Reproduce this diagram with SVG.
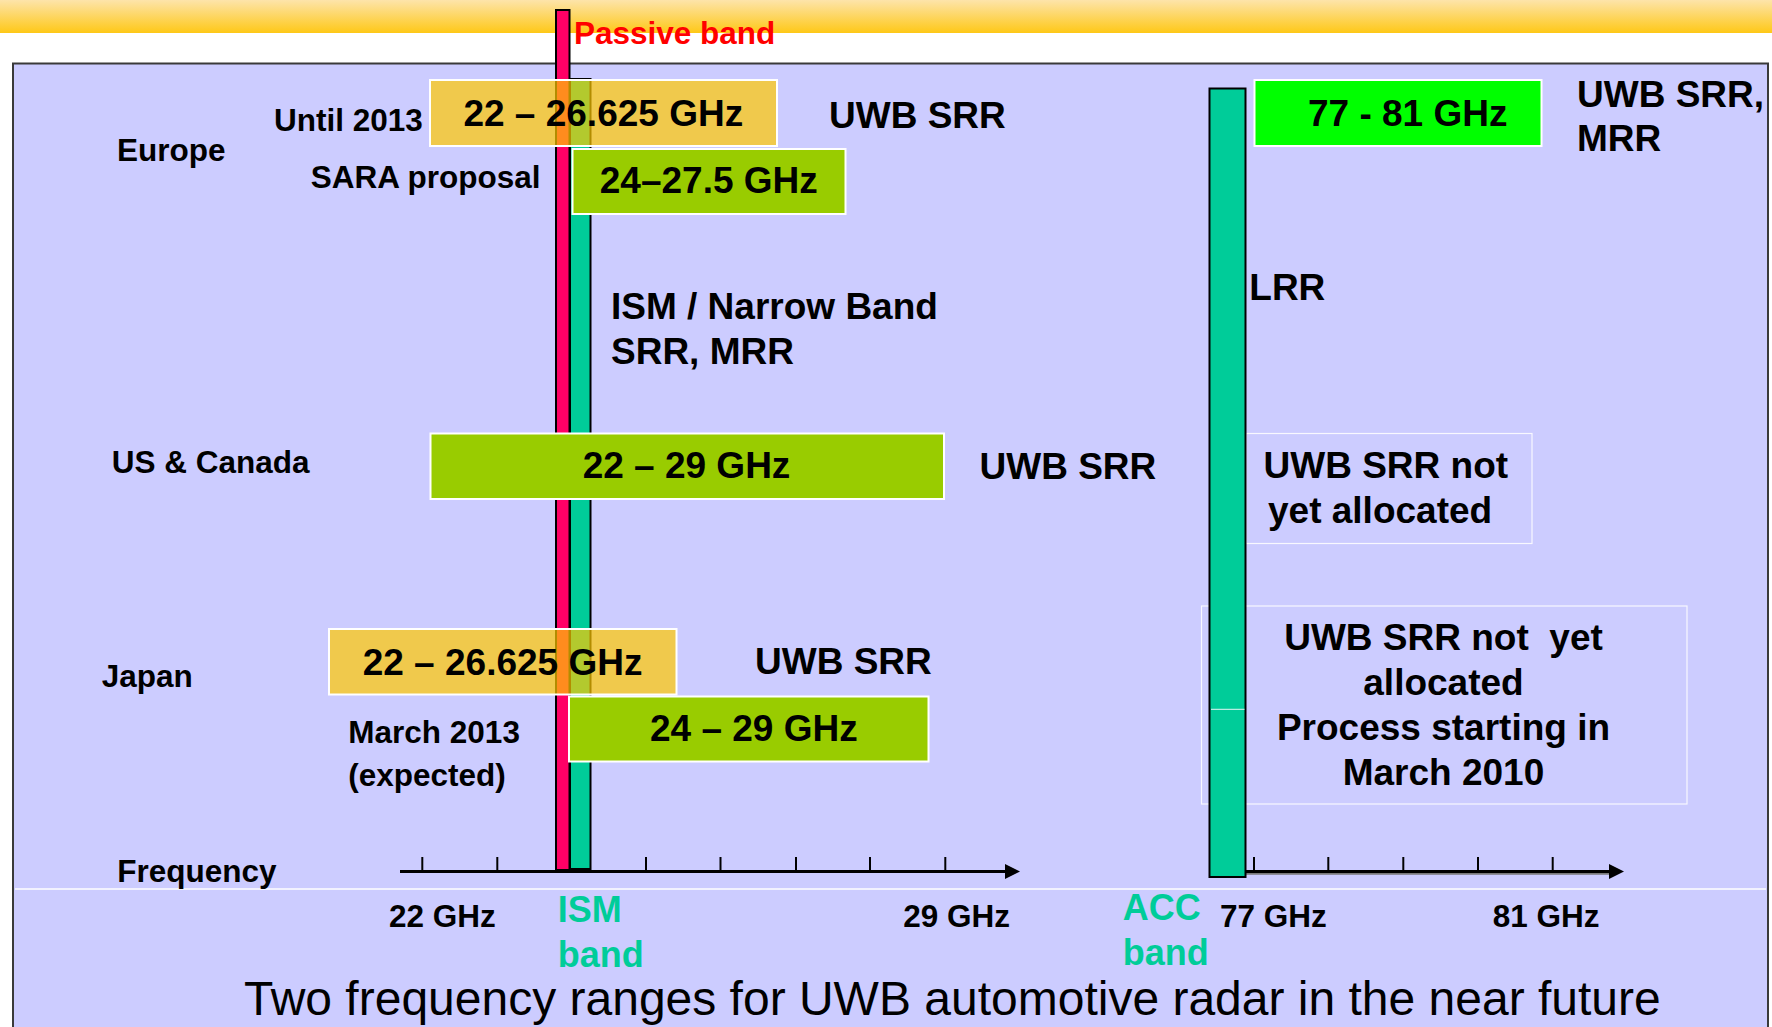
<svg xmlns="http://www.w3.org/2000/svg" width="1772" height="1027" viewBox="0 0 1772 1027">
<style>
text{font-family:"Liberation Sans",Arial,Helvetica,sans-serif;font-weight:bold;fill:#000}
.lbl{font-size:31.5px}
.big{font-size:37px}
.acc{font-size:36px;fill:#00cc99}
.title{font-size:48px;font-weight:normal}
.red{fill:#ff0000}
.mid{text-anchor:middle}
.orange{fill:#ffc800;fill-opacity:0.7;stroke:#fff;stroke-width:2}
.lime{fill:#99cc00;stroke:#fff;stroke-width:2}
.bright{fill:#00ff00;stroke:#fff;stroke-width:2}
.note{fill:none;stroke:#fff;stroke-width:1.2;stroke-opacity:0.85}
.pink{fill:#ff0066;stroke:#000;stroke-width:2}
.teal{fill:#00cc99;stroke:#000;stroke-width:2}
.axis{stroke:#000;stroke-width:3;fill:none}
.tick{stroke:#000;stroke-width:2}
</style>
<defs>
<linearGradient id="topband" x1="0" y1="0" x2="0" y2="1">
<stop offset="0" stop-color="#fde4aa"/>
<stop offset="1" stop-color="#fec817"/>
</linearGradient>
<marker id="arrow" markerUnits="userSpaceOnUse" markerWidth="16" markerHeight="16" refX="0" refY="7.5" orient="auto">
<path d="M0,0 L15,7.5 L0,15 z" fill="#000"/>
</marker>
</defs>
<rect x="0" y="0" width="1772" height="1027" fill="#fff"/>
<rect x="0" y="0" width="1772" height="33" fill="url(#topband)"/>
<rect id="panel" x="13" y="63.5" width="1755" height="1000" fill="#ccccff" stroke="#3a3a3a" stroke-width="2"/>
<line x1="15" y1="889" x2="1766" y2="889" stroke="#fff" stroke-width="1.5"/>

<g id="note-us-77">
<rect class="note" x="1246" y="433.5" width="286" height="110"/>
<text class="big" x="1263.5" y="477.5">UWB SRR not</text>
<text class="big" x="1268" y="522.5">yet allocated</text>
</g>
<g id="note-japan-77">
<rect class="note" x="1201.5" y="606" width="485.5" height="198"/>
<text class="big mid" x="1443.5" y="650" style="white-space:pre" xml:space="preserve">UWB SRR not  yet</text>
<text class="big mid" x="1443.5" y="695">allocated</text>
<text class="big mid" x="1443.5" y="740">Process starting in</text>
<text class="big mid" x="1443.5" y="785">March 2010</text>
</g>

<g id="connectors">
<line class="axis" x1="400" y1="871.5" x2="1005" y2="871.5" marker-end="url(#arrow)"/>
<g id="ticks-24ghz">
<line class="tick" x1="422.3" y1="857" x2="422.3" y2="871"/>
<line class="tick" x1="497.3" y1="857" x2="497.3" y2="871"/>
<line class="tick" x1="646" y1="857" x2="646" y2="871"/>
<line class="tick" x1="720.5" y1="857" x2="720.5" y2="871"/>
<line class="tick" x1="796" y1="857" x2="796" y2="871"/>
<line class="tick" x1="870" y1="857" x2="870" y2="871"/>
<line class="tick" x1="945.3" y1="857" x2="945.3" y2="871"/>
</g>
<line x1="1246" y1="873.5" x2="1609" y2="873.5" stroke="#7a7a7a" stroke-width="2.5"/>
<line class="axis" x1="1246" y1="871.5" x2="1609" y2="871.5" stroke-width="2.5" marker-end="url(#arrow)"/>
<g id="ticks-77ghz">
<line class="tick" x1="1254" y1="857" x2="1254" y2="871"/>
<line class="tick" x1="1328.3" y1="857" x2="1328.3" y2="871"/>
<line class="tick" x1="1403.3" y1="857" x2="1403.3" y2="871"/>
<line class="tick" x1="1478" y1="857" x2="1478" y2="871"/>
<line class="tick" x1="1552.7" y1="857" x2="1552.7" y2="871"/>
</g>
</g>

<g id="passive-band">
<rect class="pink" x="556" y="10" width="13.5" height="860"/>
<text class="lbl red" x="574" y="44">Passive band</text>
</g>
<g id="ism-band">
<rect class="teal" x="570" y="79" width="20.5" height="790"/>
<text class="acc" x="557.7" y="922">ISM</text>
<text class="acc" x="557.7" y="966.7">band</text>
</g>
<g id="acc-band">
<rect class="teal" x="1209.5" y="88.5" width="36" height="788.5"/>
<line x1="1211" y1="709.3" x2="1244.5" y2="709.3" stroke="#e6f4f4" stroke-width="1"/>
<text class="acc" x="1122.7" y="920">ACC</text>
<text class="acc" x="1122.7" y="965">band</text>
</g>

<g id="europe">
<text class="lbl" x="117" y="160.7">Europe</text>
<text class="lbl" x="274" y="131">Until 2013</text>
<text class="lbl" x="310.7" y="188.3">SARA proposal</text>
</g>
<g id="europe-until-2013">
<rect class="orange" x="430" y="80" width="347" height="66"/>
<text class="big mid" x="603.3" y="125.7">22 – 26.625 GHz</text>
<text class="big" x="829" y="128.3">UWB SRR</text>
</g>
<g id="europe-sara">
<rect class="lime" x="572.5" y="149" width="273" height="65"/>
<text class="big mid" x="708.8" y="193.3">24–27.5 GHz</text>
</g>
<g id="ism-narrow">
<text class="big" x="611" y="319.3">ISM / Narrow Band</text>
<text class="big" x="611" y="364.3">SRR, MRR</text>
</g>
<g id="us-canada">
<text class="lbl" x="111.7" y="473.3">US &amp; Canada</text>
<rect class="lime" x="430.5" y="433.5" width="513.5" height="65.5"/>
<text class="big mid" x="686.5" y="478">22 – 29 GHz</text>
<text class="big" x="979.5" y="478.5">UWB SRR</text>
</g>
<g id="japan">
<text class="lbl" x="101.7" y="686.7">Japan</text>
<rect class="orange" x="329" y="629" width="347.5" height="65.5"/>
<text class="big" x="362.7" y="675">22 – 26.625 GHz</text>
<text class="big" x="755" y="674.3">UWB SRR</text>
</g>
<g id="japan-2013">
<rect class="lime" x="569" y="696.5" width="359.5" height="65"/>
<text class="big" x="650" y="741.4">24 – 29 GHz</text>
<text class="lbl" x="348.3" y="743.3">March 2013</text>
<text class="lbl" x="348.3" y="786">(expected)</text>
</g>
<g id="band-77-81">
<rect class="bright" x="1254.5" y="80" width="287" height="66"/>
<text class="big" x="1308" y="126">77 - 81 GHz</text>
<text class="big" x="1577" y="107">UWB SRR,</text>
<text class="big" x="1577" y="151">MRR</text>
<text class="big" x="1249.3" y="300">LRR</text>
</g>
<g id="axis-labels">
<text class="lbl" x="117.3" y="881.7">Frequency</text>
<text class="lbl" x="389" y="926.7">22 GHz</text>
<text class="lbl" x="903.3" y="927">29 GHz</text>
<text class="lbl" x="1220" y="927.3">77 GHz</text>
<text class="lbl" x="1492.7" y="927">81 GHz</text>
</g>
<g id="caption">
<text class="title" x="244" y="1015">Two frequency ranges for UWB automotive radar in the near future</text>
</g>
</svg>
